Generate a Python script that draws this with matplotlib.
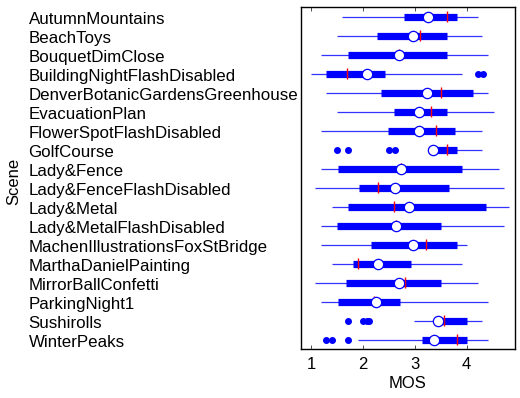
# Compact horizontal box plot of MOS per scene
import numpy as np
import matplotlib
matplotlib.use('Agg')
import matplotlib.pyplot as plt

plt.rcParams['font.family'] = ['Liberation Sans', 'DejaVu Sans']

# Scene names, top to bottom
scenes = ['AutumnMountains', 'BeachToys', 'BouquetDimClose', 'BuildingNightFlashDisabled',
          'DenverBotanicGardensGreenhouse', 'EvacuationPlan', 'FlowerSpotFlashDisabled',
          'GolfCourse', 'Lady&Fence', 'Lady&FenceFlashDisabled', 'Lady&Metal',
          'Lady&MetalFlashDisabled', 'MachenIllustrationsFoxStBridge', 'MarthaDanielPainting',
          'MirrorBallConfetti', 'ParkingNight1', 'Sushirolls', 'WinterPeaks']

# Box statistics
whisker_lo = [1.60, 1.51, 1.19, 1.01, 1.29, 1.51, 1.19, 3.33, 1.19, 1.08, 1.40, 1.19, 1.19, 1.40, 1.08, 1.19, 2.99, 1.91]
q1 = [2.79, 2.28, 1.72, 1.29, 2.35, 2.60, 2.49, 3.33, 1.53, 1.93, 1.71, 1.51, 2.16, 1.81, 1.67, 1.53, 3.47, 3.13]
median = [3.25, 2.97, 2.69, 2.08, 3.23, 3.08, 3.08, 3.36, 2.73, 2.62, 2.89, 2.64, 2.96, 2.30, 2.69, 2.26, 3.44, 3.37]
q3 = [3.82, 3.63, 3.63, 2.43, 4.12, 3.62, 3.78, 3.82, 3.90, 3.65, 4.37, 3.50, 3.82, 2.93, 3.50, 2.71, 4.00, 4.00]
whisker_hi = [4.22, 4.30, 4.41, 3.90, 4.41, 4.52, 4.30, 4.30, 4.62, 4.72, 4.81, 4.72, 4.00, 3.90, 4.22, 4.41, 4.30, 4.41]
mean = [3.62, 3.10, 2.69, 1.69, 3.50, 3.32, 3.40, 3.62, 2.73, 2.30, 2.60, 2.64, 3.21, 1.91, 2.81, 2.21, 3.57, 3.82]

# Outliers as (row index, value)
outlier_rows = [3, 3, 7, 7, 7, 7, 16, 16, 16, 16, 17, 17, 17]
outlier_vals = [4.22, 4.32, 1.51, 1.71, 2.50, 2.61, 1.71, 2.00, 2.09, 2.12, 1.29, 1.40, 1.71]

ticks = [1, 2, 3, 4]

pos = np.arange(1, len(scenes) + 1)

fig = plt.figure(figsize=(5.2, 3.98), dpi=100)
ax = fig.add_axes([300.5 / 520, 1 - 349 / 398, (515 - 300.5) / 520, (349 - 7) / 398])

blue = '#0000ff'
ax.hlines(pos, whisker_lo, whisker_hi, color=blue, lw=0.9, alpha=0.8, zorder=1)
ax.hlines(pos, q1, q3, color=blue, lw=5.2, zorder=2)
ax.vlines(mean, pos - 0.27, pos + 0.27, color='red', lw=1.0, zorder=3)
ax.scatter(median, pos, s=55, facecolor='white', edgecolor=blue, linewidth=0.9, zorder=4)
ax.plot(outlier_vals, np.array(outlier_rows) + 1, 'o', color=blue, ms=4, mec=blue, zorder=3)

ax.set_xlim(0.80, 4.93)
ax.set_ylim(18.5, 0.5)
ax.set_xticks(ticks)
ax.set_xticklabels([str(t) for t in ticks], fontsize=12)
ax.tick_params(axis='x', direction='in', top=True, length=3, width=0.6, color='#333333', pad=6)
ax.set_yticks(pos + 0.08)
ax.set_yticklabels(scenes, fontsize=12.2)
ax.tick_params(axis='y', length=0, pad=272 * 0.72)
for lab in ax.get_yticklabels():
    lab.set_horizontalalignment('left')
for s in ax.spines.values():
    s.set_linewidth(1.0)

ax.set_xlabel('MOS', fontsize=12, labelpad=3)
fig.text(14 / 520, 1 - 181 / 398, 'Scene', rotation=90, fontsize=12, ha='center', va='center')

fig.savefig('out.png', dpi=100)
